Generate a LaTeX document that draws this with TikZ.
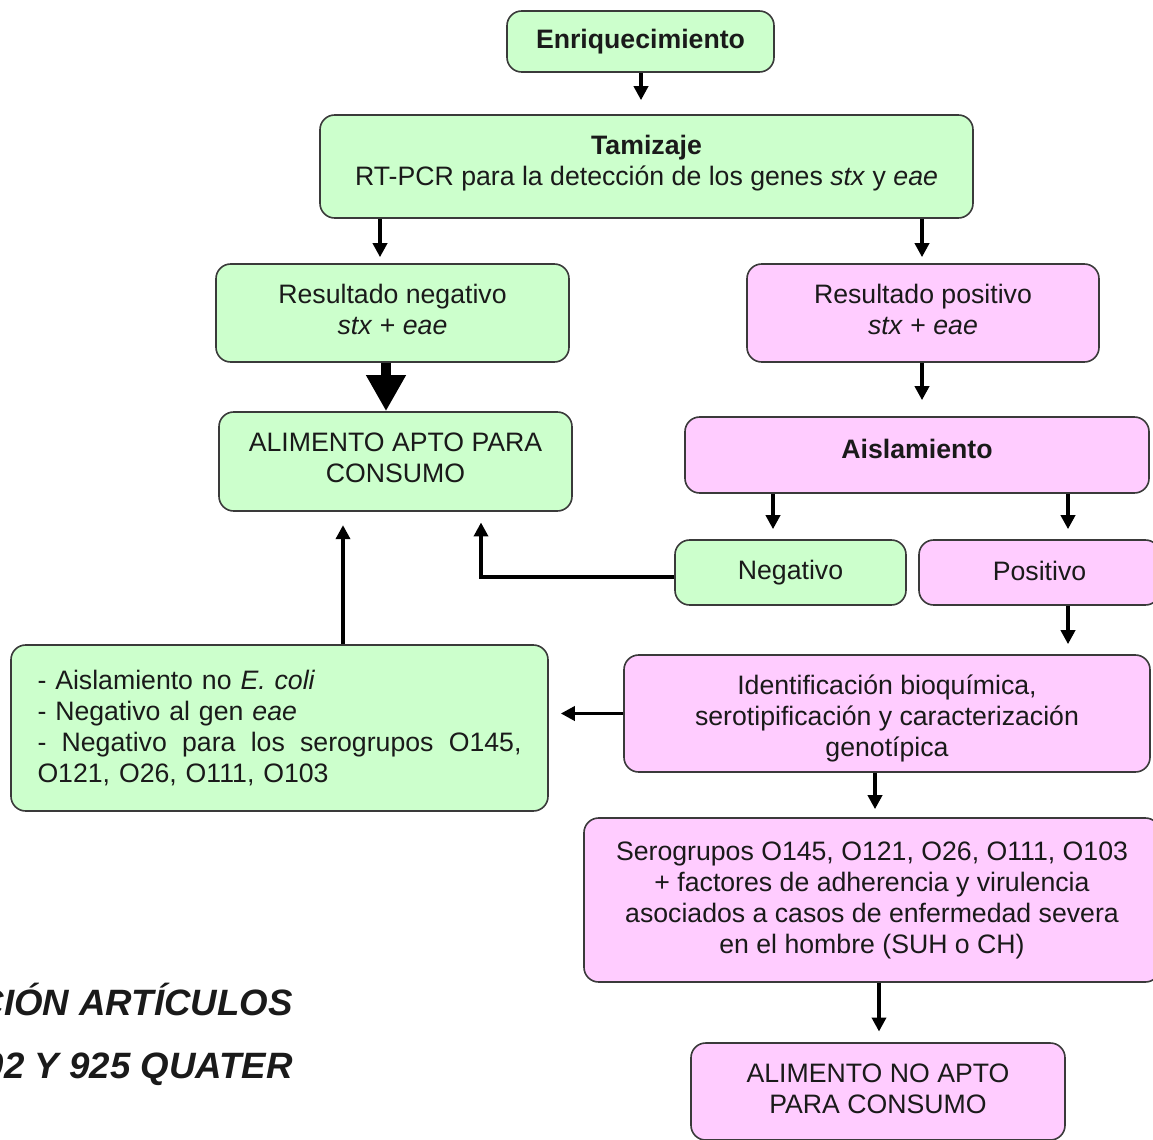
\documentclass[tikz,border=0pt]{standalone}
\usepackage{fontspec}
\setmainfont{Liberation Sans}
\usetikzlibrary{arrows.meta,calc}
\definecolor{gbox}{HTML}{CCFFCC}
\definecolor{pbox}{HTML}{FFCCFF}
\definecolor{bord}{HTML}{3A3A3A}
\definecolor{txt}{HTML}{1A1A1A}
\newcommand\dd[1]{\rule[-#1]{0pt}{#1}}
\newcommand\uu[1]{\rule{0pt}{#1}}
\tikzset{
  box/.style={draw=bord, line width=1.2pt, rounded corners=11pt, inner sep=0pt,
    align=center, text=txt, font=\fontsize{20}{23.25}\selectfont},
  gb/.style={box, fill=gbox},
  pb/.style={box, fill=pbox},
  arr/.style={line width=2.8pt, -{Triangle[width=10.5pt,length=10.5pt]}},
  bigarr/.style={line width=8pt, -{Triangle[width=28pt,length=27pt]}},
  title/.style={font=\fontsize{27.5}{32}\selectfont\bfseries\itshape, text=txt, inner sep=0pt}
}
\begin{document}
\begin{tikzpicture}[x=0.75pt,y=-0.75pt]
\useasboundingbox (0,0) rectangle (1153,1139);
\clip (0,0) rectangle (1153,1139);
% nodes
\node[gb, minimum width=200.25pt, minimum height=45.75pt] (enr) at (640.5,41.5) {\textbf{Enriquecimiento}};
\node[gb, minimum width=489.75pt, minimum height=77.25pt] (tam) at (646.5,166.5) {\textbf{Tamizaje}\\RT-PCR para la detección de los genes \textit{stx} y \textit{eae}\dd{8.7pt}};
\node[gb, minimum width=264.75pt, minimum height=73.5pt] (neg) at (392.5,313) {Resultado negativo\\\textit{stx} + \textit{eae}\dd{6pt}};
\node[pb, minimum width=264pt, minimum height=73.5pt] (pos) at (923,313) {Resultado positivo\\\textit{stx} + \textit{eae}\dd{6pt}};
\node[gb, minimum width=264.75pt, minimum height=74.25pt] (apto) at (395.5,461.5) {ALIMENTO APTO PARA\\CONSUMO\dd{6pt}};
\node[pb, minimum width=348pt, minimum height=57pt] (ais) at (917,455) {\raisebox{9pt}{\textbf{Aislamiento}}};
\node[gb, minimum width=173.25pt, minimum height=48.75pt] (negb) at (790.5,572.5) {Negativo};
\node[pb, minimum width=180.75pt, minimum height=48.75pt] (posb) at (1039.5,572.5) {\raisebox{2.2pt}{Positivo}};
\node[pb, minimum width=394.5pt, minimum height=87.75pt] (ident) at (887,713.5) {\uu{22pt}Identificación bioquímica,\\serotipificación y caracterización\\genotípica};
\node[gb, minimum width=402.75pt, minimum height=124.5pt, text width=363pt, align=left] (left) at (279.5,728)
  {- Aislamiento no \textit{E. coli}\\
   - Negativo al gen \textit{eae}\\
   \makebox[363pt][l]{-\hfill Negativo\hfill para\hfill los\hfill serogrupos\hfill O145,}\\
   O121, O26, O111, O103\dd{3pt}};
\node[pb, minimum width=432pt, minimum height=123pt] (sero) at (872,900) {Serogrupos O145, O121, O26, O111, O103\\+ factores de adherencia y virulencia\\asociados a casos de enfermedad severa\\en el hombre (SUH o CH)};
\node[pb, minimum width=280.5pt, minimum height=72.75pt] (noapto) at (878,1091.5) {ALIMENTO NO APTO\\PARA CONSUMO\dd{4.5pt}};
% bottom-left title (cut by the frame)
\node[title, anchor=base east] (t1) at (293,1015) {CIÓN ARTÍCULOS};
\node[title, anchor=base east] (t2) at (293,1078) {02 Y 925 QUATER};
% connectors
\draw[arr, shorten >=10.5pt] (641,0 |- enr.south) -- (641,0 |- tam.north);
\draw[arr, shorten >=4.5pt] (380,0 |- tam.south) -- (380,0 |- neg.north);
\draw[arr, shorten >=4.5pt] (922,0 |- tam.south) -- (922,0 |- pos.north);
\draw[bigarr] (386,0 |- neg.south) -- (386,0 |- apto.north);
\draw[arr, shorten >=12pt] (922,0 |- pos.south) -- (922,0 |- ais.north);
\draw[arr, shorten >=7.5pt] (773,0 |- ais.south) -- (773,0 |- negb.north);
\draw[arr, shorten >=7.5pt] (1068,0 |- ais.south) -- (1068,0 |- posb.north);
\draw[arr, shorten >=7.5pt] (1068,0 |- posb.south) -- (1068,0 |- ident.north);
\draw[arr, shorten >=8pt] ([yshift=-3.5pt]negb.west) -| (481,0 |- apto.south);
\draw[arr, shorten >=10pt] (343,0 |- left.north) -- (343,0 |- apto.south);
\draw[arr, shorten >=9pt] (ident.west) -- (ident.west -| left.east);
\draw[arr, shorten >=6pt] (875,0 |- ident.south) -- (875,0 |- sero.north);
\draw[arr, shorten >=8pt] (879,0 |- sero.south) -- (879,0 |- noapto.north);
\end{tikzpicture}
\end{document}
